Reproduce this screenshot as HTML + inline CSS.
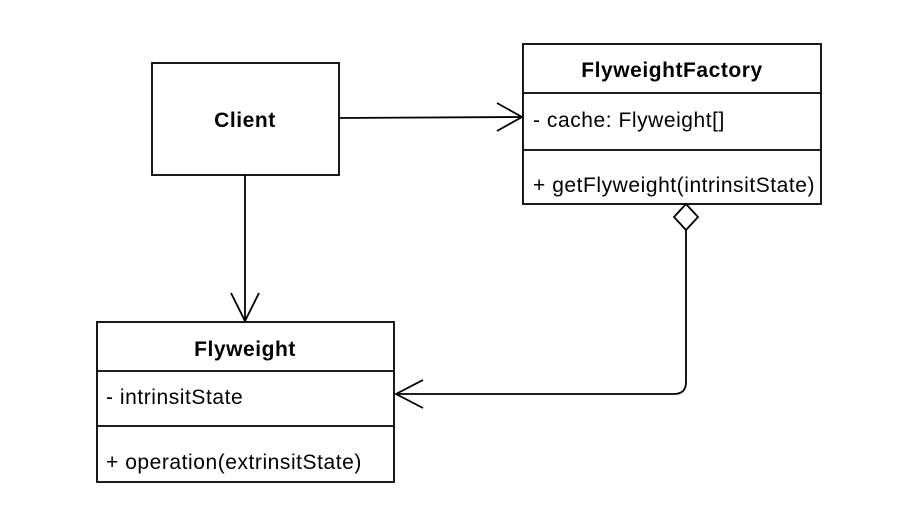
<!DOCTYPE html>
<html><head><style>
html,body{margin:0;padding:0;background:#fff;}
svg{display:block;}
text{font-family:"Liberation Sans",Arial,sans-serif;fill:#000;letter-spacing:0.55px;}
</style></head><body>
<svg width="923" height="525" viewBox="0 0 923 525" xmlns="http://www.w3.org/2000/svg">
<rect x="0" y="0" width="923" height="525" fill="#fff"/>
<g fill="none" stroke="#000" stroke-width="1.8">
<rect x="152" y="63" width="187" height="112"/>
<rect x="523" y="44" width="298" height="160"/>
<line x1="523" y1="93" x2="821" y2="93"/>
<line x1="523" y1="150" x2="821" y2="150"/>
<rect x="97" y="322" width="297" height="160"/>
<line x1="97" y1="371" x2="394" y2="371"/>
<line x1="97" y1="426" x2="394" y2="426"/>
<line x1="339" y1="118" x2="522" y2="117"/>
<polyline points="497,103 522,117 497,131"/>
<line x1="245" y1="175" x2="245" y2="321"/>
<polyline points="231,293 245,321 259,293"/>
<polygon points="686,204 698,217 686,230 674,217" fill="#fff"/>
<path d="M686,230 L686,382 Q686,394 674,394 L396,394"/>
<polyline points="423,380 396,394 423,408"/>
</g>
<text x="245" y="127" font-size="21" font-weight="bold" text-anchor="middle">Client</text>
<text x="672" y="77" font-size="21" font-weight="bold" text-anchor="middle">FlyweightFactory</text>
<text x="533" y="127" font-size="21">- cache: Flyweight[]</text>
<text x="533" y="192" font-size="21">+ getFlyweight(intrinsitState)</text>
<text x="245" y="356" font-size="21" font-weight="bold" text-anchor="middle">Flyweight</text>
<text x="106" y="404" font-size="21">- intrinsitState</text>
<text x="106" y="469" font-size="21">+ operation(extrinsitState)</text>
</svg>
</body></html>
